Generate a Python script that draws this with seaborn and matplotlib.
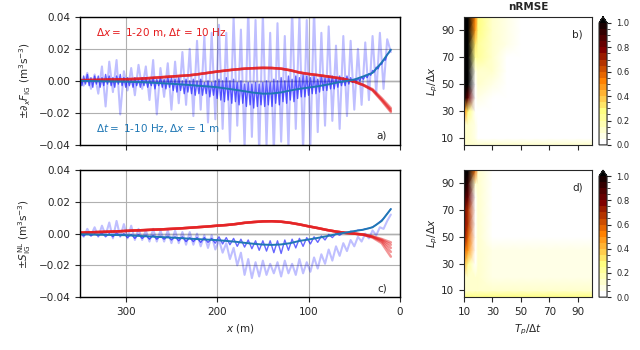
import numpy as np
import matplotlib
matplotlib.use("Agg")
import matplotlib.pyplot as plt
from matplotlib.colors import BoundaryNorm
import seaborn as sns

# cross-shore grids (m) -- values below are in units of 1e-3 m^3 s^-3
x_smooth = np.arange(350, 9, -10)   # 35 points
x_mid = np.arange(350, 9, -4)       # 86 points
x_fine = np.arange(350, 9, -2)      # 171 points

# panel a) red lines: dx = 1-20 m, dt = 10 Hz
red_a = [0.4, 0.5, 0.6, 0.8, 0.9, 1.0, 1.2, 1.5, 1.9, 2.3, 2.7, 3.1, 3.5, 4.2, 5.0,
         5.8, 6.5, 7.1, 7.6, 7.9, 8.1, 8.0, 7.6, 6.6, 5.2, 4.3, 3.6, 2.8, 2.0, 1.0,
         -0.5, -2.8, -6.0, -12.5, -19.5]
red_a_tails = [[-2.6, -5.6, -11.5, -18.0],
               [-2.5, -5.2, -10.8, -17.0],
               [-2.7, -5.8, -12.0, -18.8]]

# panel a) blue: dt = 10 Hz reference and coarser sampling
blue_a = [0.0, -0.1, -0.2, -0.3, -0.4, -0.5, -0.7, -0.9, -1.2, -1.5, -1.8, -2.2, -2.6,
          -3.1, -3.5, -4.0, -4.8, -5.6, -6.5, -7.4, -8.0, -7.9, -7.2, -6.0, -5.0, -4.2,
          -3.4, -2.4, -1.2, -0.2, 0.8, 2.8, 5.0, 11.5, 19.5]
light_a = [2, -3, 5, -5, 4, -8, 9, -16, 12, -7, 13, -21, 6,
           -6, 8, -9, 10, -5, 9, -12, 13, -21, 8, -10, 11, -18,
           12, -14, 18, -15, 20, -22, 25, -18, 28, -26, 30, -24,
           35, -30, 30, -38, 40, -28, 32, -42, 45, -35, 38, -45, 42, -40, 30, -45, 36,
           -38, 28, -42, 45, -30, 40, -44, 38,
           -40, 45, -32, 30, -28, 34, -25, 22, -30, 28, -22, 25, -18,
           20, -15, 24, -12, 28, -8, 30, -5, 26, 18]
dark_a = [2, -3, 3, -2, 4, -3, 2, -4, 3, -2, 3, -4, 2, -3, 4, -2, 3, -3, 2, -4, 3, -2, 4, -3, 2,
          -4, 2, -3, 1, -4, 2, -3, 1, -4, 2, -3, 2, -4, 1, -3, 2, -5, 1, -3, 2, -4, 1, -5, 2, -4,
          2, -6, 1, -7, 2, -6, 0, -8, 1, -7, 0, -8, 1, -9, 0, -8, 1, -9, -1, -8, 0, -10, -1, -9, 0,
          -11, 1, -12, 0, -13, 2, -12, 0, -14, 1, -13, -1, -15, 0, -14, -2, -16, -1, -15, -2, -17,
          -1, -16, -2, -15,
          -1, -16, 0, -15, -1, -16, 1, -14, 0, -15, 2, -13, 0, -14, 3, -12, 1, -13, 3, -11, 2,
          -10, 4, -10, 3,
          -9, 2, -8, 3, -8, 1, -7, 3, -6, 2, -6, 3, -5, 3, -5, 2, -4, 3, -3, 2, -3, 3, -2, 2, -1,
          1, -0.5, 1.5, 0, 2.5, 1, 3.5, 2, 4.5, 3.5, 6.5, 5.5, 8.5, 7.5, 10, 10.5, 13, 13, 16.5,
          17.5, 19.5]

# panel c) nonlinear transfer
red_c = [0.6, 0.8, 1.0, 1.2, 1.4, 1.7, 2.0, 2.2, 2.5, 2.7, 3.0, 3.3, 3.7, 4.1, 4.5, 5.0,
         5.4, 6.0, 6.8, 7.3, 7.7, 7.8, 7.5, 6.8, 5.8, 4.6, 3.5, 2.3, 1.3, 0.5, 0.0,
         -0.8, -2.5, -6.0, -14.5]
red_c_tails = [[-0.7, -2.2, -5.0, -11.5],
               [-0.6, -2.0, -4.3, -9.0],
               [-0.6, -1.9, -3.8, -7.0],
               [-0.5, -1.7, -3.4, -5.5]]
blue_c = [-0.4, -0.5, -0.7, -0.8, -0.9, -1.0, -1.3, -1.6, -1.9, -2.2, -2.5, -2.8, -3.2,
          -3.5, -3.8, -4.1, -4.6, -5.1, -5.8, -6.4, -6.9, -7.1, -6.8, -6.0, -4.6, -3.7,
          -2.7, -1.6, -0.4, 0.6, 1.6, 2.5, 4.0, 8.0, 15.5]
light_c = [1, -2, 3, -1, 4, -2, 5, -1, 7, -3, 8, -2, 6,
           -3, 5, -4, 3, -4, 2, -5, 3, -5, 2, -5, 2, -6,
           2, -6, 1, -7, 1, -7, 0, -8, -1, -9, -1, -10,
           -4, -12, -6, -16, -9, -20, -12, -26, -16, -28, -18, -27, -17, -26, -19, -25,
           -18, -27, -17, -25, -19, -26, -16, -25, -18,
           -24, -15, -22, -13, -19, -10, -17, -8, -14, -6, -11, -4, -8,
           -2, -5, 0, -3, 2, -1, 4, 3, 8, 12]
dark_c = [0.5, -1.5, 0.5, -1.5, 0, -1.5, 0.5, -2, 0, -2, 0.5, -1.5, 0,
          -2.5, -0.5, -3, -0.5, -3, -1, -3.5, -1, -3.5, -1.5, -3.5, -1.5, -4,
          -2, -4.5, -2, -5, -2.5, -5, -2.5, -5.5, -2.5, -5.5, -3, -6,
          -2, -6.5, -2.5, -7, -3, -8, -3.5, -8.5, -4, -9.5, -4.5, -10.5, -4.5, -11,
          -4.5, -12, -4.5, -12.5, -4, -10.5, -3.5, -9, -3, -8, -2.5,
          -6.5, -2, -5.5, -1.5, -4, -0.5, -2.5, 0, -1, 0.8, 0.2, 1.5, 1.2,
          2.2, 2.2, 3.0, 3.3, 4.2, 5.5, 7.5, 9.5, 12.5, 15.5]

# nRMSE maps (rows: Lp/dx, columns: Tp/dt)
tp_dt = [10, 13, 18, 20, 30, 40, 50, 60, 70, 80, 90, 100]
lp_dx = [5, 10, 20, 30, 40, 50, 60, 70, 80, 90, 100]
nrmse_b = [
    [0.15, 0.15, 0.12, 0.10, 0.10, 0.10, 0.10, 0.10, 0.10, 0.10, 0.10, 0.10],
    [0.15, 0.15, 0.08, 0.03, 0.02, 0.01, 0.01, 0.01, 0.01, 0.01, 0.01, 0.01],
    [0.15, 0.12, 0.05, 0.03, 0.02, 0.01, 0.01, 0.01, 0.01, 0.01, 0.01, 0.01],
    [0.50, 0.30, 0.03, 0.03, 0.02, 0.01, 0.01, 0.01, 0.01, 0.01, 0.01, 0.01],
    [1.10, 0.80, 0.03, 0.05, 0.03, 0.02, 0.01, 0.01, 0.01, 0.01, 0.01, 0.01],
    [1.20, 1.10, 0.03, 0.10, 0.06, 0.02, 0.01, 0.01, 0.01, 0.01, 0.01, 0.01],
    [1.20, 1.10, 0.05, 0.15, 0.10, 0.03, 0.01, 0.01, 0.01, 0.01, 0.01, 0.01],
    [1.20, 1.10, 0.20, 0.20, 0.12, 0.04, 0.01, 0.01, 0.01, 0.01, 0.01, 0.01],
    [1.20, 1.10, 0.35, 0.22, 0.15, 0.05, 0.01, 0.01, 0.01, 0.01, 0.01, 0.01],
    [1.20, 1.10, 0.45, 0.25, 0.15, 0.05, 0.01, 0.01, 0.01, 0.01, 0.01, 0.01],
    [1.20, 1.10, 0.50, 0.25, 0.15, 0.05, 0.01, 0.01, 0.01, 0.01, 0.01, 0.01],
]
nrmse_d = [
    [0.25, 0.25, 0.25, 0.25, 0.25, 0.25, 0.25, 0.25, 0.25, 0.25, 0.25, 0.25],
    [0.15, 0.15, 0.12, 0.12, 0.12, 0.12, 0.12, 0.12, 0.12, 0.12, 0.12, 0.12],
    [0.15, 0.12, 0.10, 0.10, 0.08, 0.08, 0.08, 0.08, 0.08, 0.08, 0.08, 0.08],
    [0.40, 0.20, 0.04, 0.10, 0.07, 0.07, 0.07, 0.07, 0.07, 0.07, 0.07, 0.07],
    [0.60, 0.45, 0.03, 0.10, 0.06, 0.06, 0.06, 0.06, 0.06, 0.06, 0.06, 0.06],
    [0.75, 0.60, 0.02, 0.10, 0.03, 0.02, 0.02, 0.02, 0.02, 0.02, 0.02, 0.02],
    [0.75, 0.65, 0.02, 0.12, 0.03, 0.02, 0.02, 0.02, 0.02, 0.02, 0.02, 0.02],
    [0.80, 0.70, 0.02, 0.12, 0.03, 0.02, 0.02, 0.02, 0.02, 0.02, 0.02, 0.02],
    [0.90, 0.80, 0.03, 0.12, 0.03, 0.02, 0.02, 0.02, 0.02, 0.02, 0.02, 0.02],
    [1.10, 0.95, 0.10, 0.15, 0.03, 0.02, 0.01, 0.01, 0.01, 0.01, 0.01, 0.01],
    [1.20, 1.10, 0.60, 0.15, 0.03, 0.01, 0.01, 0.01, 0.01, 0.01, 0.01, 0.01],
]

sns.set_style("ticks")
plt.rcParams['font.family'] = ['DejaVu Sans']
plt.rcParams['font.size'] = 7.5

fig = plt.figure(figsize=(6.4, 3.5), dpi=100)
ax_a = fig.add_axes([0.125, 0.586, 0.5, 0.366])
ax_c = fig.add_axes([0.125, 0.151, 0.5, 0.363])
ax_b = fig.add_axes([0.725, 0.586, 0.2, 0.366])
ax_d = fig.add_axes([0.725, 0.151, 0.2, 0.363])
cax_b = fig.add_axes([0.936, 0.586, 0.0125, 0.366])
cax_d = fig.add_axes([0.936, 0.151, 0.0125, 0.363])

s = 1e-3


def draw_profiles(ax, light, dark, reds, blue, xdark):
    ax.grid(True, color='#b0b0b0', lw=0.8, zorder=0)
    ax.set_axisbelow(True)
    ax.axhline(0, color='#888888', lw=1.0, zorder=0.5)
    sns.lineplot(x=x_mid, y=np.array(light) * s, ax=ax, color='blue', alpha=0.25,
                 lw=1.5, estimator=None, legend=False)
    sns.lineplot(x=xdark, y=np.array(dark) * s, ax=ax, color='blue', alpha=0.6,
                 lw=1.0, estimator=None, legend=False)
    for r in reds:
        sns.lineplot(x=x_smooth, y=np.array(r) * s, ax=ax, color='#e41a1c', alpha=0.45,
                     lw=1.8, estimator=None, legend=False)
    sns.lineplot(x=x_smooth, y=np.array(blue) * s, ax=ax, color='#1f77b4',
                 lw=1.4, estimator=None, legend=False)
    ax.set_xlim(350, 0)
    ax.set_ylim(-0.04, 0.04)
    ax.set_xticks([300, 200, 100, 0])
    ax.set_yticks([-0.04, -0.02, 0.0, 0.02, 0.04])
    for sp in ax.spines.values():
        sp.set_linewidth(1.0)
        sp.set_color('black')


reds_a = [red_a] + [red_a[:-4] + t for t in red_a_tails]
reds_c = [red_c] + [red_c[:-4] + t for t in red_c_tails]
draw_profiles(ax_a, light_a, dark_a, reds_a, blue_a, x_fine)
draw_profiles(ax_c, light_c, dark_c, reds_c, blue_c, x_mid)

ax_a.set_xticklabels([])
ax_a.set_xlabel('')
ax_a.set_ylabel(r'$\pm\partial_x F_{\mathrm{IG}}$ (m$^3$s$^{-3}$)')
ax_c.set_ylabel(r'$\pm S^{\mathrm{NL}}_{\mathrm{IG}}$ (m$^3$s$^{-3}$)')
ax_c.set_xlabel(r'$x$ (m)')
ax_a.text(0.05, 0.875, r'$\Delta x =$ 1-20 m, $\Delta t$ = 10 Hz', color='#e41a1c',
          transform=ax_a.transAxes, va='center')
ax_a.text(0.05, 0.13, r'$\Delta t =$ 1-10 Hz, $\Delta x$ = 1 m', color='#1f77b4',
          transform=ax_a.transAxes, va='center')
ax_a.text(0.96, 0.07, 'a)', transform=ax_a.transAxes, ha='right', va='center')
ax_c.text(0.96, 0.07, 'c)', transform=ax_c.transAxes, ha='right', va='center')

# nRMSE maps
levels = np.linspace(0, 1, 21)
cmap = plt.get_cmap('afmhot_r')
norm = BoundaryNorm(levels, cmap.N, extend='max')
for ax, z, cax, lab in [(ax_b, nrmse_b, cax_b, 'b)'), (ax_d, nrmse_d, cax_d, 'd)')]:
    mesh = ax.pcolormesh(tp_dt, lp_dx, np.array(z), cmap=cmap, norm=norm,
                         shading='gouraud')
    ax.set_xlim(10, 100)
    ax.set_ylim(5, 100)
    ax.set_xticks([10, 30, 50, 70, 90])
    ax.set_yticks([10, 30, 50, 70, 90])
    ax.set_ylabel(r'$L_p/\Delta x$', labelpad=1)
    ax.text(0.93, 0.86, lab, transform=ax.transAxes, ha='right', va='center')
    cb = fig.colorbar(mesh, cax=cax, extend='max', ticks=[0, 0.2, 0.4, 0.6, 0.8, 1.0])
    cb.ax.tick_params(labelsize=6, length=3)
    cb.ax.yaxis.set_major_formatter(plt.FormatStrFormatter('%.1f'))

ax_b.set_xticklabels([])
ax_b.set_title('nRMSE', fontsize=7.5, fontweight='bold', pad=5)
ax_d.set_xlabel(r'$T_p/\Delta t$')

fig.savefig('out.png', dpi=100)
